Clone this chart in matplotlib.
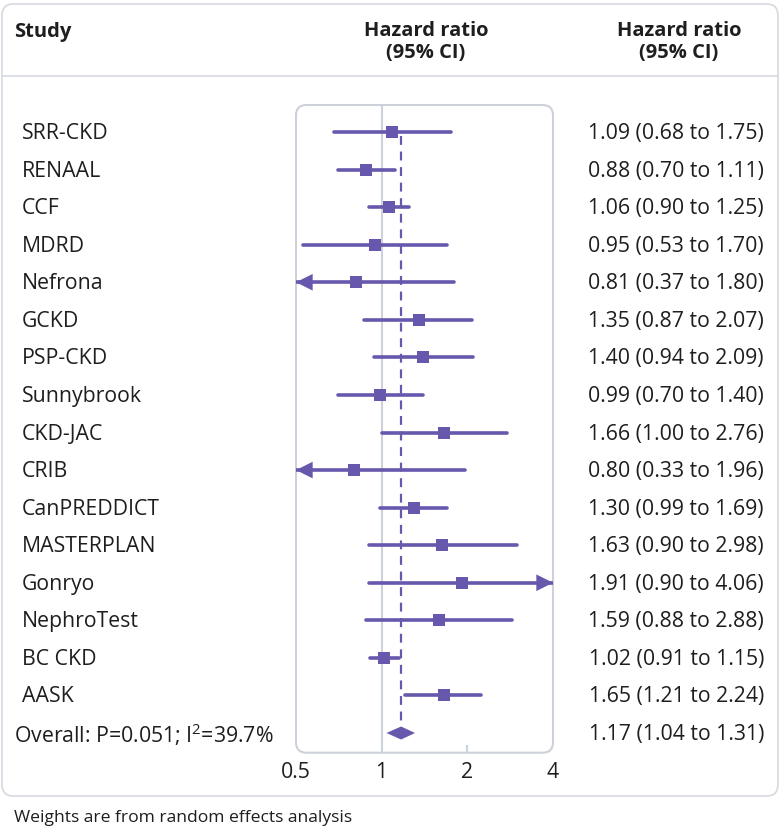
import matplotlib
matplotlib.use("Agg")
import matplotlib.pyplot as plt
from matplotlib.patches import FancyBboxPatch, Polygon
from matplotlib.lines import Line2D
import matplotlib.transforms as mtransforms

studies = ["SRR-CKD", "RENAAL", "CCF", "MDRD", "Nefrona", "GCKD", "PSP-CKD",
           "Sunnybrook", "CKD-JAC", "CRIB", "CanPREDDICT", "MASTERPLAN", "Gonryo",
           "NephroTest", "BC CKD", "AASK"]
hr = [1.09, 0.88, 1.06, 0.95, 0.81, 1.35, 1.40, 0.99, 1.66, 0.80, 1.30, 1.63, 1.91, 1.59, 1.02, 1.65]
lo = [0.68, 0.70, 0.90, 0.53, 0.37, 0.87, 0.94, 0.70, 1.00, 0.33, 0.99, 0.90, 0.90, 0.88, 0.91, 1.21]
hi = [1.75, 1.11, 1.25, 1.70, 1.80, 2.07, 2.09, 1.40, 2.76, 1.96, 1.69, 2.98, 4.06, 2.88, 1.15, 2.24]
overall_label = "Overall: P=0.051; I$^2$=39.7%"
overall = [1.17, 1.04, 1.31]
xticks = [0.5, 1, 2, 4]
xticklabels = ["0.5", "1", "2", "4"]

W, H = 780, 835
PURPLE = "#6757ad"
GREY = "#cdd1d9"
TXT = "#1e1e1e"
FONT = ["Open Sans", "DejaVu Sans"]
plt.rcParams["font.family"] = FONT
plt.rcParams["mathtext.fontset"] = "custom"
plt.rcParams["mathtext.rm"] = "Open Sans"
FS = 15.3

fig = plt.figure(figsize=(W / 100, H / 100), dpi=100)

def fy(p):
    return 1 - p / H

def fx(p):
    return p / W

# outer frame
fig.patches.append(FancyBboxPatch((fx(2), fy(796)), fx(776), 792 / H,
                                  boxstyle="round,pad=0,rounding_size=0.014",
                                  transform=fig.transFigure, fill=False,
                                  edgecolor="#d5d9e0", linewidth=1.2))
fig.add_artist(Line2D([fx(2), fx(778)], [fy(76), fy(76)], transform=fig.transFigure,
                      color="#d5d9e0", linewidth=1.2))

# headers
fig.text(fx(14), fy(32), "Study", ha="left", va="center", fontsize=14.5, fontweight="bold", color=TXT)
fig.text(fx(426), fy(42), "Hazard ratio\n(95% CI)", ha="center", va="center", fontsize=14.5,
         fontweight="bold", color=TXT, linespacing=1.1)
fig.text(fx(679), fy(42), "Hazard ratio\n(95% CI)", ha="center", va="center", fontsize=14.5,
         fontweight="bold", color=TXT, linespacing=1.1)

# forest axes
left, right, top, bottom = 296, 553, 105, 752.7
ax = fig.add_axes([fx(left), fy(bottom), fx(right - left), (bottom - top) / H])
ax.set_xscale("log", base=2)
ax.set_xlim(0.5, 4)
n = len(studies)
row0, dy = 132, (733 - 132) / n
ax.set_ylim(n + (bottom - 733) / dy, -(row0 - top) / dy)
for s in ax.spines.values():
    s.set_visible(False)
ax.set_xticks([])
ax.set_yticks([])
ax.patch.set_visible(False)

ax.add_patch(FancyBboxPatch((0, 0), 1, 1, boxstyle="round,pad=0,rounding_size=0.04",
                            transform=ax.transAxes, fill=False, edgecolor=GREY,
                            linewidth=1.5, mutation_aspect=257 / 648, clip_on=False))
ax.axvline(1, color=GREY, linewidth=1.5, zorder=1)
# small tick at 2
trans_b = mtransforms.blended_transform_factory(ax.transData, ax.transAxes)
ax.plot([2, 2], [0, 7 / (bottom - top)], color=GREY, linewidth=1.5, transform=trans_b)

# dashed overall line
ax.plot([overall[0], overall[0]], [0.1, n - 0.2], color=PURPLE, linewidth=1.6,
        linestyle=(0, (4, 3)), zorder=2)

xmin, xmax = 0.5, 4
astyle = "-|>,head_length=0.6,head_width=0.3"
for i, (h, l, u) in enumerate(zip(hr, lo, hi)):
    l2, u2 = max(l, xmin), min(u, xmax)
    ax.plot([l2, u2], [i, i], color=PURPLE, linewidth=2.6, solid_capstyle="round", zorder=3)
    if l < xmin:
        ax.annotate("", xy=(xmin, i), xytext=(xmin * 1.15, i),
                    arrowprops=dict(arrowstyle=astyle, color=PURPLE, lw=0,
                                    mutation_scale=20, shrinkA=0, shrinkB=0), zorder=4,
                    annotation_clip=False)
    if u > xmax:
        ax.annotate("", xy=(xmax, i), xytext=(xmax / 1.15, i),
                    arrowprops=dict(arrowstyle=astyle, color=PURPLE, lw=0,
                                    mutation_scale=20, shrinkA=0, shrinkB=0), zorder=4,
                    annotation_clip=False)
    ax.plot([h], [i], marker="s", markersize=8.3, color=PURPLE, markeredgewidth=0, zorder=5)

# overall diamond
dh = 6.5 / dy
ax.add_patch(Polygon([[overall[1], n], [overall[0], n - dh], [overall[2], n], [overall[0], n + dh]],
                     closed=True, facecolor=PURPLE, edgecolor="none", zorder=5))

# tick labels
for t, lab in zip(xticks, xticklabels):
    ax.text(t, -0.014, lab, transform=trans_b, ha="center", va="top", fontsize=FS, color=TXT)

# row texts
off = mtransforms.ScaledTranslation(0, -1.5 / 100, fig.dpi_scale_trans)
trans_l = mtransforms.blended_transform_factory(fig.transFigure, ax.transData) + off
for i, s in enumerate(studies):
    ax.text(fx(22), i, s, transform=trans_l, ha="left", va="center", fontsize=FS, color=TXT)
    ax.text(fx(764), i, f"{hr[i]:.2f} ({lo[i]:.2f} to {hi[i]:.2f})", transform=trans_l,
            ha="right", va="center", fontsize=FS, color=TXT)
ax.text(fx(14), n, overall_label, transform=trans_l, ha="left", va="center", fontsize=FS, color=TXT)
ax.text(fx(764), n, f"{overall[0]:.2f} ({overall[1]:.2f} to {overall[2]:.2f})", transform=trans_l,
        ha="right", va="center", fontsize=FS, color=TXT)

fig.text(fx(14), fy(818), "Weights are from random effects analysis", ha="left", va="center",
         fontsize=12.6, color=TXT)

fig.savefig("out.png", dpi=100)
